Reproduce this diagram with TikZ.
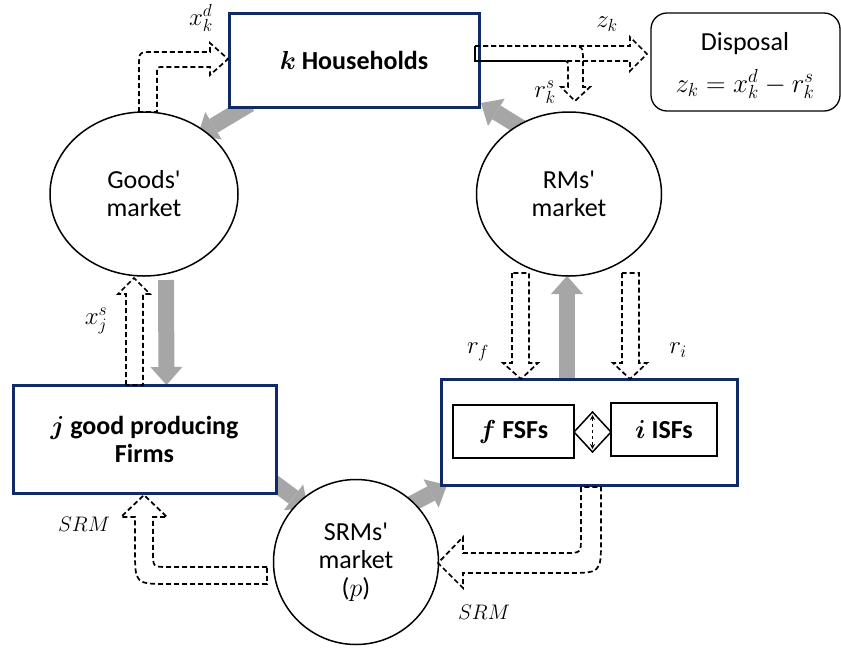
\documentclass[tikz,border=0pt]{standalone}
\usepackage{fix-cm}
\usepackage{fontspec}
\setmainfont{Carlito}
\usetikzlibrary{shapes.geometric,arrows.meta,calc}
\definecolor{navy}{HTML}{102A66}
\definecolor{flowgray}{HTML}{A6A6A6}
\pgfdeclarelayer{background}
\pgfsetlayers{background,main}

\begin{document}
\begin{tikzpicture}[x=1pt,y=-1pt,
  every node/.style={font=\fontsize{26}{28}\selectfont, inner sep=0pt, outer sep=0pt},
  agent/.style={draw=navy, line width=3pt, fill=white, rectangle, align=center},
  market/.style={draw=black, line width=1.5pt, fill=white, ellipse, align=center},
  subfirm/.style={draw=black, line width=1.5pt, fill=white, rectangle, align=center},
  garrow/.style={draw=flowgray, line width=16pt,
    -{Triangle[width=32pt,length=18pt,line width=0pt]}},
  hollow/.style={draw=black, line width=1.7pt, dash pattern=on 5pt off 3pt,
    line join=miter},
  lbl/.style={font=\fontsize{25}{28}\selectfont},
  wordlbl/.style={font=\fontsize{21}{24}\selectfont},
]
\useasboundingbox (0,0) rectangle (841,649);

% agents
\node[agent, minimum width=250pt, minimum height=94pt] (hh) at (354,60)
  {{\boldmath$k$} \textbf{Households}};
\node[agent, minimum width=263pt, minimum height=108pt] (firms) at (144.5,439)
  {{\boldmath$j$} \textbf{good producing}\\\textbf{Firms}};
\node[agent, minimum width=296pt, minimum height=106pt] (sect) at (589,432) {};
\node[subfirm, minimum width=121pt, minimum height=53pt] (fsf) at (513.5,431.5)
  {{\boldmath$f$} \textbf{FSFs}};
\node[subfirm, minimum width=106pt, minimum height=53pt] (isf) at (664,429.5)
  {{\boldmath$i$} \textbf{ISFs}};
\node[diamond, draw, line width=1.5pt, minimum width=37pt, minimum height=40pt,
  inner sep=0pt] (link) at (592.5,432) {};
\draw[dashed, line width=1pt, {Stealth[length=5pt,width=5pt]}-{Stealth[length=5pt,width=5pt]}]
  ([yshift=-3pt]link.north) -- ([yshift=3pt]link.south);

% disposal
\node[draw, line width=1.3pt, rounded corners=16pt, minimum width=189pt,
  minimum height=98pt] (disp) at (745.5,62) {};
\node (disptitle) at (745,44) {Disposal};
\node[font=\fontsize{27}{28}\selectfont] (dispeq) at (745,84) {$z_k = x_k^d - r_k^s$};

% markets
\node[market, minimum width=188pt, minimum height=164pt] (goods) at (144,194)
  {Goods\textquotesingle\\market};
\node[market, minimum width=185pt, minimum height=164pt] (rms) at (569,194)
  {RMs\textquotesingle\\market};
\node[market, circle, minimum size=165pt] (srm) at (356,562)
  {SRMs\textquotesingle\\market\\($p$)};

% real flows (grey block arrows)
\begin{pgfonlayer}{background}
\draw[garrow] ($(hh.south west)+(21,-3)$) -- ($(goods.center)+(54,-59)$);
\draw[garrow] ($(goods.south)+(22,4)$) -- ($(firms.north)+(22,0)$);
\draw[garrow] ($(firms.south east)+(-11,-17)$) -- ($(srm.center)+(-48,-54)$);
\draw[garrow] ($(srm.center)+(44,-52)$) -- ($(sect.south west)+(6,0)$);
\draw[garrow] ($(sect.north)+(-22,4)$) -- ($(rms.south)+(-2,0)$);
\draw[garrow] ($(rms.center)+(-39,-61)$) -- ($(hh.south east)+(2,-4)$);
\end{pgfonlayer}

% nominal flows (dashed hollow arrows)
% x_k^d : goods market -> households
\draw[hollow] (139,112) -- (139,66) .. controls (139,52) .. (153,52) -- (210,52)
  -- (210,43) -- (228,59) -- (210,75) -- (210,67) -- (163,67)
  .. controls (157,67) .. (157,73) -- (157,112) -- cycle;
% z_k : households -> disposal
\draw[hollow] (475,46) -- (630,46) -- (630,37) -- (647,54) -- (630,71)
  -- (630,61) -- (475,61) -- cycle;
% r_k^s : households -> RMs' market
\draw[hollow] (475,46) -- (568,46) .. controls (583,46) .. (583,61) -- (583,87)
  -- (590,87) -- (575,101) -- (561,87) -- (568,87) -- (568,67)
  .. controls (568,61) .. (562,61) -- (475,61) -- cycle;
% x_j^s : firms -> goods market
\draw[hollow] (126,385) -- (126,294) -- (118,294) -- (134,278) -- (150,294)
  -- (143,294) -- (143,385) -- cycle;
% r_f and r_i : RMs' market -> financial sector
\draw[hollow] (512,273) -- (512,363) -- (503,363) -- (521,379) -- (538,363)
  -- (529,363) -- (529,273) -- cycle;
\draw[hollow] (622,273) -- (622,363) -- (613,363) -- (630,379) -- (647,363)
  -- (639,363) -- (639,273) -- cycle;
% SRM : financial sector -> SRMs' market
\draw[hollow] (581,487) -- (581,537) .. controls (581,553) .. (565,553) -- (463,553)
  -- (463,537) -- (438,563) -- (463,588) -- (463,573) -- (566,573)
  .. controls (601,573) .. (601,540) -- (601,487) -- cycle;
% SRM : SRMs' market -> firms
\draw[hollow] (267,567) -- (168,567) .. controls (153,567) .. (153,552) -- (153,517)
  -- (167,517) -- (144,495) -- (121,517) -- (135,517) -- (135,550)
  .. controls (135,584) .. (169,584) -- (267,584) -- cycle;

% flow labels
\node[lbl] (lxd) at (201,18) {$x_k^d$};
\node[lbl] (lz) at (607,24) {$z_k$};
\node[lbl] (lrs) at (545,92) {$r_k^s$};
\node[lbl] (lxs) at (96,321) {$x_j^s$};
\node[lbl] (lrf) at (478,352) {$r_f$};
\node[lbl] (lri) at (678,350) {$r_i$};
\node[wordlbl] (lsrm1) at (84,524) {$SRM$};
\node[wordlbl] (lsrm2) at (484,612) {$SRM$};
\end{tikzpicture}
\end{document}
